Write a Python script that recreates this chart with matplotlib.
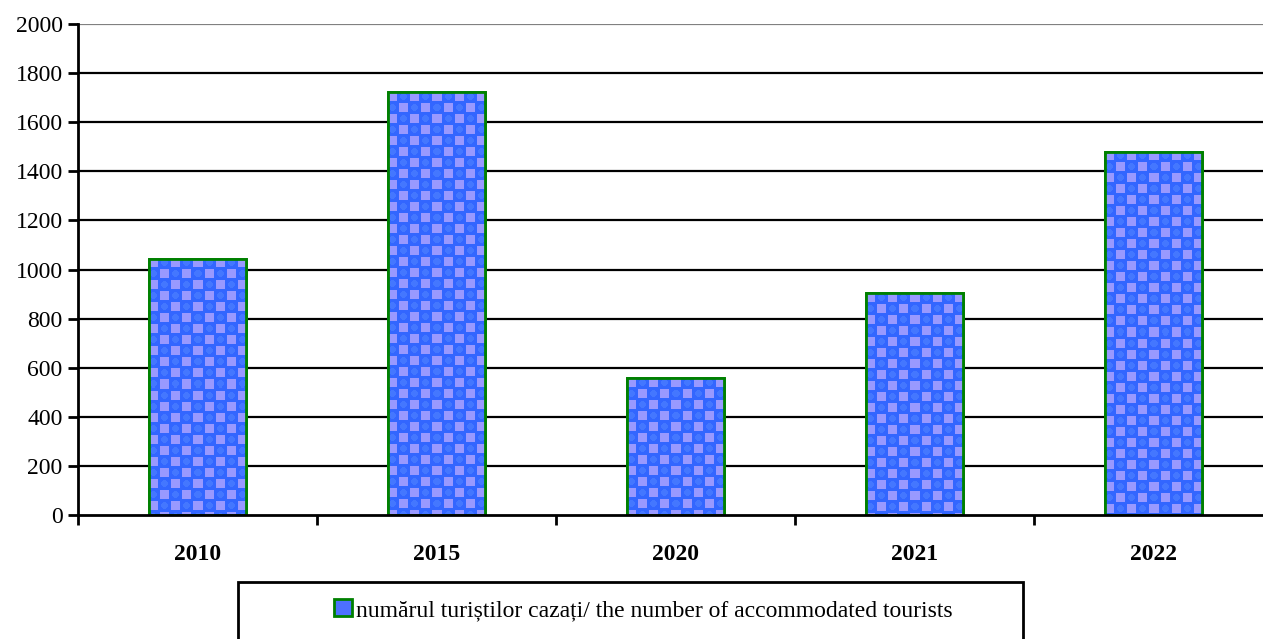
import numpy as np
import matplotlib
matplotlib.use('Agg')
import matplotlib.pyplot as plt
from matplotlib.patches import Rectangle

plt.rcParams['font.family'] = ['Liberation Serif', 'DejaVu Serif']

# data
years = ['2010', '2015', '2020', '2021', '2022']
tourists = [1043, 1723, 558, 904, 1479]
legend_label = 'numărul turiștilor cazați/ the number of accommodated tourists'

W, H = 1263, 639
fig = plt.figure(figsize=(W / 100, H / 100), dpi=100)
ax_l, ax_r, ax_t, ax_b = 78, 1273, 24, 515
ax = fig.add_axes([ax_l / W, 1 - ax_b / H, (ax_r - ax_l) / W, (ax_b - ax_t) / H])

x = np.arange(len(years))

# gridlines
for v in range(200, 2001, 200):
    ax.axhline(v, color='#808080' if v == 2000 else 'black', lw=1.6, zorder=1)

bars = ax.bar(x, tourists, width=0.406, facecolor='#3366ff', edgecolor='#008000',
              linewidth=2, zorder=3)


def texture(wpx, hpx, per=22, sq=9):
    # blue circles with lavender squares in a checker layout
    img = np.zeros((hpx, wpx, 3))
    img[:] = np.array([0x33, 0x66, 0xff]) / 255
    yy, xx = np.mgrid[0:hpx, 0:wpx]
    h = per // 2
    # lighter circle centres
    for ox, oy in [(h + sq // 2, sq // 2), (sq // 2, h + sq // 2)]:
        d = ((xx - ox + per / 2) % per - per / 2) ** 2 + ((yy - oy + per / 2) % per - per / 2) ** 2
        img[d < 12] = np.array([0x44, 0x77, 0xff]) / 255
    a = (xx % per < sq) & (yy % per < sq)
    b = ((xx + h) % per < sq) & ((yy + h) % per < sq)
    img[a | b] = np.array([0x99, 0x99, 0xff]) / 255
    return img


px_x = (ax_r - ax_l) / 5.0
px_y = (ax_b - ax_t) / 2000.0
for b in bars:
    x0, w, h = b.get_x(), b.get_width(), b.get_height()
    img = texture(int(round(w * px_x)), int(round(h * px_y)))
    im = ax.imshow(img, extent=(x0, x0 + w, 0, h), origin='upper',
                   interpolation='nearest', aspect='auto', zorder=3.5)
    im.set_clip_path(b)
    ax.add_patch(Rectangle((x0, 0), w, h, fill=False, edgecolor='#008000', lw=2, zorder=4))
ax.set_aspect('auto')
ax.set_xlim(-0.5, len(years) - 0.5)
ax.set_ylim(0, 2000)

for s in ['top', 'right']:
    ax.spines[s].set_visible(False)
for s in ['left', 'bottom']:
    ax.spines[s].set_linewidth(2)
    ax.spines[s].set_zorder(5)

ax.set_yticks(range(0, 2001, 200))
ax.tick_params(axis='y', direction='out', length=7, width=2, labelsize=17, pad=4)

ax.set_xticks(np.arange(-0.5, len(years), 1.0))
ax.set_xticklabels([])
ax.tick_params(axis='x', which='major', direction='out', length=7, width=2)
ax.set_xticks(x, minor=True)
ax.set_xticklabels(years, minor=True, fontweight='bold', fontsize=17)
ax.tick_params(axis='x', which='minor', length=0, pad=21)

# legend box
fig.patches.append(Rectangle((238 / W, -0.05), (1023 - 238) / W, 1 - 582 / H + 0.05,
                             transform=fig.transFigure, fill=False,
                             edgecolor='black', lw=2))
handle = Rectangle((0, 0), 1, 1, facecolor='#4d70ff', edgecolor='#008000', lw=2)
fig.legend([handle], [legend_label], loc='center', bbox_to_anchor=(643.5 / W, 1 - 610 / H),
           frameon=False, fontsize=17, handlelength=0.75, handleheight=0.75,
           handletextpad=0.2)

fig.savefig('out.png', dpi=100)
